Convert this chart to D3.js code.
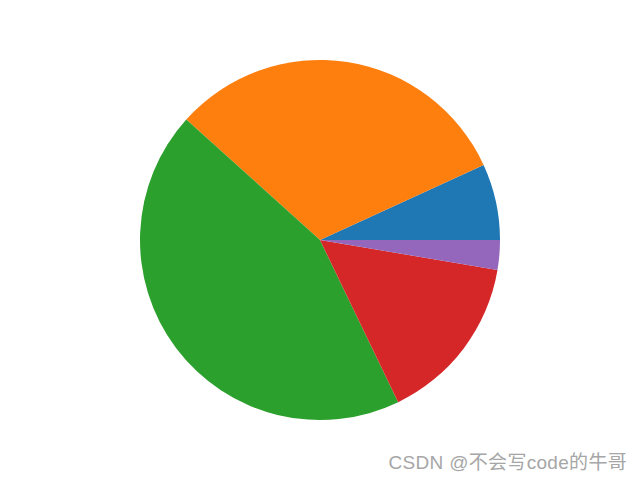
<!DOCTYPE html>
<html>
<head>
<meta charset="utf-8">
<script src="https://cdn.jsdelivr.net/npm/d3@7"></script>
<style>
  body { margin: 0; background: #fff; }
</style>
</head>
<body>
<svg width="640" height="480"></svg>
<script>
// slice values (percent), counterclockwise from 3 o'clock like matplotlib
var labels = ["A", "B", "C", "D", "E"];
var values = [6.85, 31.48, 43.82, 15.18, 2.67];
var colors = ["#1f77b4", "#ff7f0e", "#2ca02c", "#d62728", "#9467bd"];

var svg = d3.select("svg"),
	width = +svg.attr("width"),
	height = +svg.attr("height"),
	radius = 180;

var color = d3.scaleOrdinal().domain(labels).range(colors);

// start at 3 o'clock and go counterclockwise
var pie = d3.pie()
	.sort(null)
	.startAngle(Math.PI / 2)
	.endAngle(Math.PI / 2 - 2 * Math.PI);

var arc = d3.arc().innerRadius(0).outerRadius(radius);

var g = svg.append("g")
	.attr("transform", "translate(" + 320 + "," + 240 + ")");

g.selectAll("path")
	.data(pie(values))
	.enter().append("path")
	.attr("fill", function(d, i) {
		return color(labels[i]);
	})
	.attr("d", arc);

// watermark
svg.append("text")
	.attr("x", 627)
	.attr("y", 469)
	.attr("text-anchor", "end")
	.attr("font-family", "'Liberation Sans', 'Noto Sans CJK SC', sans-serif")
	.attr("font-size", 19)
	.attr("letter-spacing", 0.3)
	.attr("fill", "#a6a6a6")
	.text("CSDN @不会写code的牛哥");
</script>
</body>
</html>
